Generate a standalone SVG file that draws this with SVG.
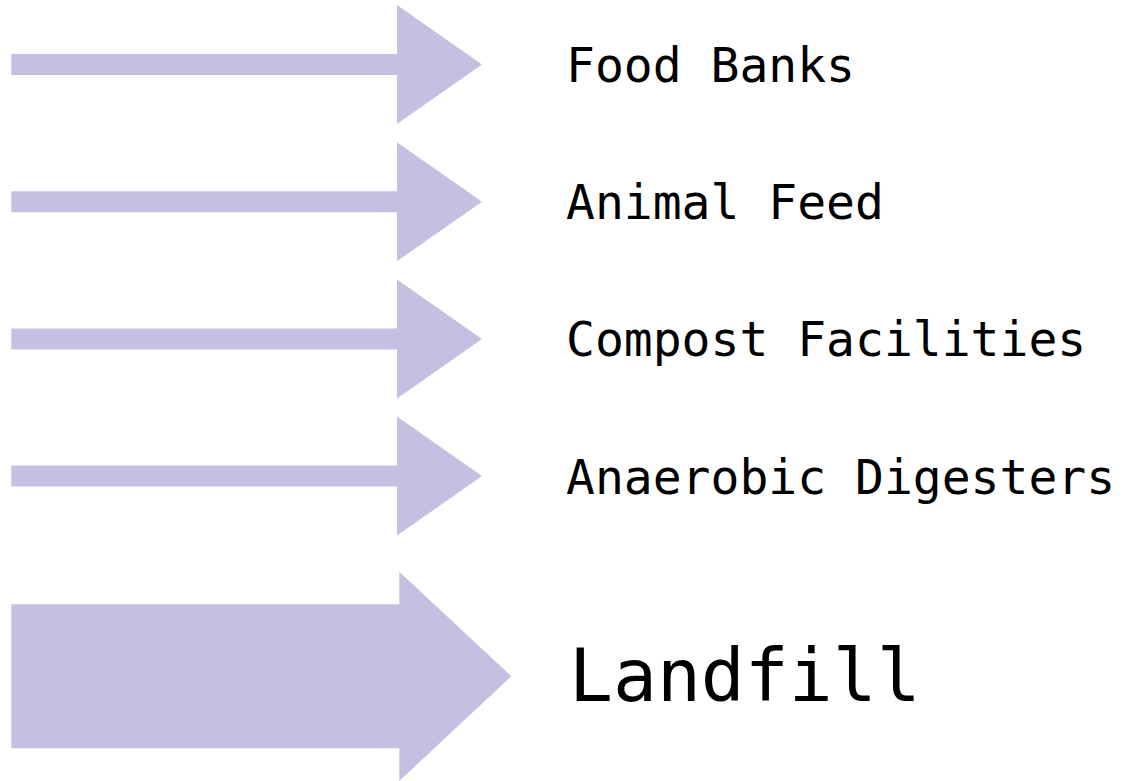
<svg xmlns="http://www.w3.org/2000/svg" width="1127" height="781" viewBox="0 0 1127 781">
<style>
.arr{fill:#c3c0e2;}
.lbl{font-family:"DejaVu Sans Mono","Liberation Mono",monospace;font-size:48px;fill:#000;}
.big{font-size:73px;}
</style>
<rect width="1127" height="781" fill="#fff"/>
<g id="connectors">
<path class="arr" d="M11.3,54 H397 V5 L482,64.5 L397,124 V75 H11.3 Z"/>
<path class="arr" d="M11.3,191.2 H397 V142.2 L482,201.7 L397,261.2 V212.2 H11.3 Z"/>
<path class="arr" d="M11.3,328.4 H397 V279.4 L482,338.9 L397,398.4 V349.4 H11.3 Z"/>
<path class="arr" d="M11.3,465.6 H397 V416.6 L482,476.1 L397,535.6 V486.6 H11.3 Z"/>
<path class="arr" d="M11.3,604.3 H399.3 V571.7 L511.3,676.3 L399.3,781 V748.3 H11.3 Z"/>
</g>
<g id="food-banks"><text class="lbl" x="566" y="82">Food Banks</text></g>
<g id="animal-feed"><text class="lbl" x="566" y="219.2">Animal Feed</text></g>
<g id="compost-facilities"><text class="lbl" x="566" y="356.4">Compost Facilities</text></g>
<g id="anaerobic-digesters"><text class="lbl" x="566" y="493.6">Anaerobic Digesters</text></g>
<g id="landfill"><text class="lbl big" x="569" y="701">Landfill</text></g>
</svg>
